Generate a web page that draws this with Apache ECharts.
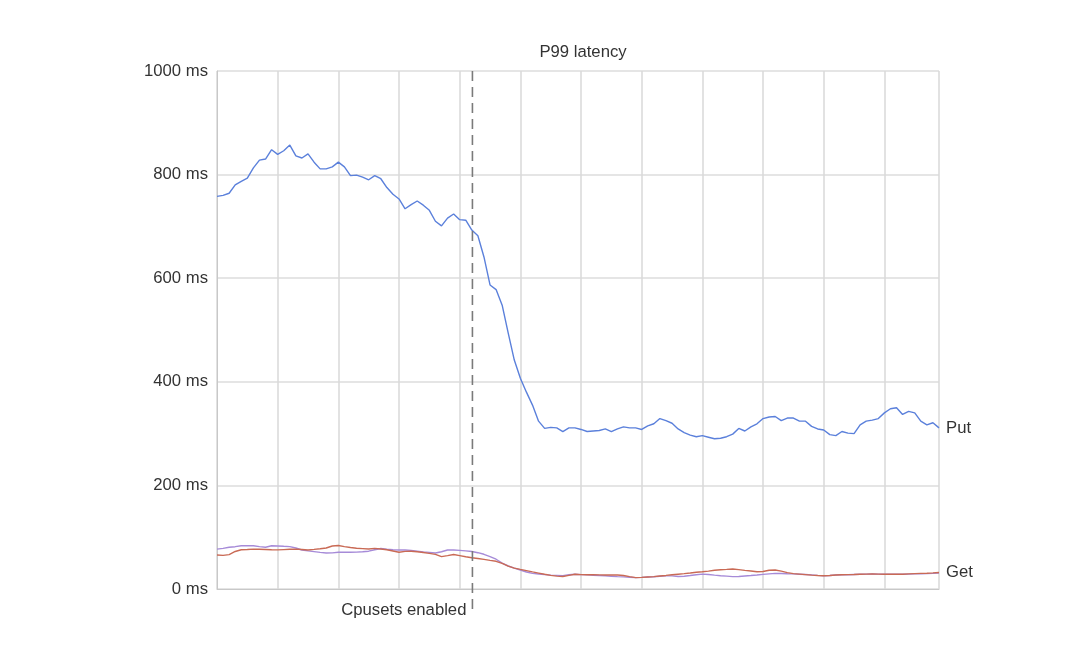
<!DOCTYPE html>
<html>
<head>
<meta charset="utf-8">
<script src="https://cdn.jsdelivr.net/npm/echarts@6/dist/echarts.min.js"></script>
<style>
  html, body { margin: 0; padding: 0; background: #ffffff; }
  #chart { width: 1080px; height: 664px; }
</style>
</head>
<body>
<div id="chart"></div>
<script>
// ---- data (values in ms, sampled every 0.1 time unit) ----
const chartTitle = 'P99 latency';
const yTicks = [0, 200, 400, 600, 800, 1000];
const cpusetLabel = 'Cpusets enabled';
const cpusetTime = 4.21;

const putMs = [
  758,760,764,780,787,793,813,828,830,848,
  839,846,857,836,832,840,824,811,811,815,
  824,815,798,799,795,790,798,792,775,762,
  753,734,742,749,741,731,710,701,716,724,
  713,712,693,682,641,587,578,548,494,442,
  407,380,355,324,310,312,311,304,311,311,
  308,304,305,306,309,304,309,313,311,311,
  308,315,319,329,325,320,309,302,297,294,
  296,293,290,291,294,299,310,305,313,319,
  329,332,333,325,330,330,324,324,314,309,
  307,298,296,304,301,300,317,324,326,329,
  340,348,350,337,343,340,324,317,321,311
];

const getPurpleMs = [
  77,78.5,80.5,81.7,83.6,83.6,83.4,81.9,80.7,83.4,
  83,82.4,81.9,79.2,75.3,73.7,72.2,70.7,69.5,69.7,
  70.9,70.9,70.9,71.1,72,73,75.7,78.2,76.8,75.7,
  75.3,75.3,74.5,73.2,71.6,70.7,69.5,72,75.3,75.3,
  74.5,73.7,72.4,70.1,67,62.4,57.5,50,44.4,40.3,
  36.7,32.8,30.1,29,27.8,26.8,26.4,25.9,27.4,28.4,
  27.8,27.2,26.6,26,25.5,24.7,23.9,23.4,22.6,22,
  22.4,23.2,23.7,24.5,25.3,25.3,24.1,24.7,26,27.4,
  28.8,28,26.8,25.7,24.9,23.9,24.1,25.1,26,27,
  28.2,29.2,30.1,29.9,29.5,29.2,28.6,28,27.2,26.4,
  25.7,26.2,27,27.4,27.6,28,28.4,28.8,29,28.8,
  28.6,28.4,28.4,28.4,28.8,29.2,29.3,29.7,30.1,30.9
];

const getRedMs = [
  65.6,65,66.4,72.4,75.7,76.3,77,76.8,76.3,75.7,
  75.5,76.1,76.6,77,76.3,75.3,76.4,77.6,79.2,83,
  84,81.9,80.1,78.8,78,77.2,78.4,77.2,75.7,73.4,
  71,72.6,72.8,71.8,70.5,68.7,66.8,62.5,64.5,66.6,
  64.5,62.2,60.4,58.9,57.1,55.2,53.5,49.4,44,40.2,
  37.8,35.5,33,30.7,28.4,26.4,24.9,24.1,26.4,28.4,
  27.8,27.6,27.4,27.2,27,27,27,26,23.9,22,
  22.4,23.2,23.9,25.1,26.2,27.4,28.6,29.7,30.9,32.2,
  33.2,34.6,36.1,37.1,37.8,38.6,37.3,35.9,34.7,33.4,
  33.8,36.3,36.7,34.4,31.5,29.7,28.8,27.8,26.8,26.2,
  25.7,26.2,27,27.4,27.8,28,28.4,28.8,29,28.8,
  28.6,28.4,28.4,28.6,29.2,29.7,30.1,30.5,31.1,31.9
];

// sampling grid (time units)
const times = putMs.map((_, i) => i / 10);
const pair = arr => arr.map((v, i) => [times[i], v]);

const FONT = '"Liberation Sans", Arial, sans-serif';
const TXT = '#333333';
const FS = 16.7;

const chart = echarts.init(document.getElementById('chart'), null, { renderer: 'canvas' });

chart.setOption({
  backgroundColor: '#ffffff',
  animation: false,
  title: {
    text: chartTitle,
    left: 578, textAlign: 'center',
    top: 39,
    textStyle: { fontFamily: FONT, fontSize: FS, fontWeight: 'normal', color: TXT }
  },
  grid: { left: 217, right: 141, top: 71, bottom: 75, containLabel: false },
  xAxis: {
    type: 'value',
    min: 0, max: 11.9, interval: 1,
    axisLine: { show: true, lineStyle: { color: '#c8c8c8', width: 1 } },
    axisTick: { show: false },
    axisLabel: { show: false },
    splitLine: { show: true, lineStyle: { color: '#d9d9d9', width: 1.5 } }
  },
  yAxis: {
    type: 'value',
    min: yTicks[0], max: yTicks[yTicks.length - 1], interval: 200,
    axisLine: { show: true, lineStyle: { color: '#c8c8c8', width: 1 } },
    axisTick: { show: false },
    axisLabel: {
      margin: 9, fontFamily: FONT, fontSize: FS, color: TXT,
      formatter: v => v + ' ms'
    },
    splitLine: { show: true, lineStyle: { color: '#dcdcdc', width: 1.5 } }
  },
  series: [
    {
      name: 'Put', type: 'line', data: pair(putMs),
      showSymbol: false, symbol: 'none',
      lineStyle: { color: '#5b80db', width: 1.4 },
      itemStyle: { color: '#5b80db' },
      z: 3,
      endLabel: { show: true, formatter: '{a}', distance: 7, fontFamily: FONT, fontSize: FS, color: TXT }
    },
    {
      name: 'Get', type: 'line', data: pair(getPurpleMs),
      showSymbol: false, symbol: 'none',
      lineStyle: { color: '#a68bd8', width: 1.4 },
      itemStyle: { color: '#a68bd8' },
      z: 3
    },
    {
      name: 'Get', type: 'line', data: pair(getRedMs),
      showSymbol: false, symbol: 'none',
      lineStyle: { color: '#c96a55', width: 1.4 },
      itemStyle: { color: '#c96a55' },
      z: 3,
      endLabel: { show: true, formatter: '{a}', distance: 7, fontFamily: FONT, fontSize: FS, color: TXT }
    },
    {
      name: 'cpusets', type: 'custom', silent: true, clip: false, z: 4,
      data: [[cpusetTime, 0]],
      encode: { x: 0, y: 1 },
      renderItem: (params, api) => {
        const top = api.coord([api.value(0), yTicks[yTicks.length - 1]]);
        const bot = api.coord([api.value(0), yTicks[0]]);
        return {
          type: 'group',
          children: [
            {
              type: 'line',
              shape: { x1: top[0], y1: top[1], x2: bot[0], y2: bot[1] + 24 },
              style: { stroke: '#7a7a7a', lineWidth: 1.6, lineDash: [10, 6] }
            },
            {
              type: 'text',
              style: {
                text: cpusetLabel, x: top[0] - 6, y: bot[1] + 21,
                align: 'right', verticalAlign: 'middle',
                fill: TXT, fontSize: FS, fontFamily: FONT
              }
            }
          ]
        };
      }
    }
  ]
});
</script>
</body>
</html>
